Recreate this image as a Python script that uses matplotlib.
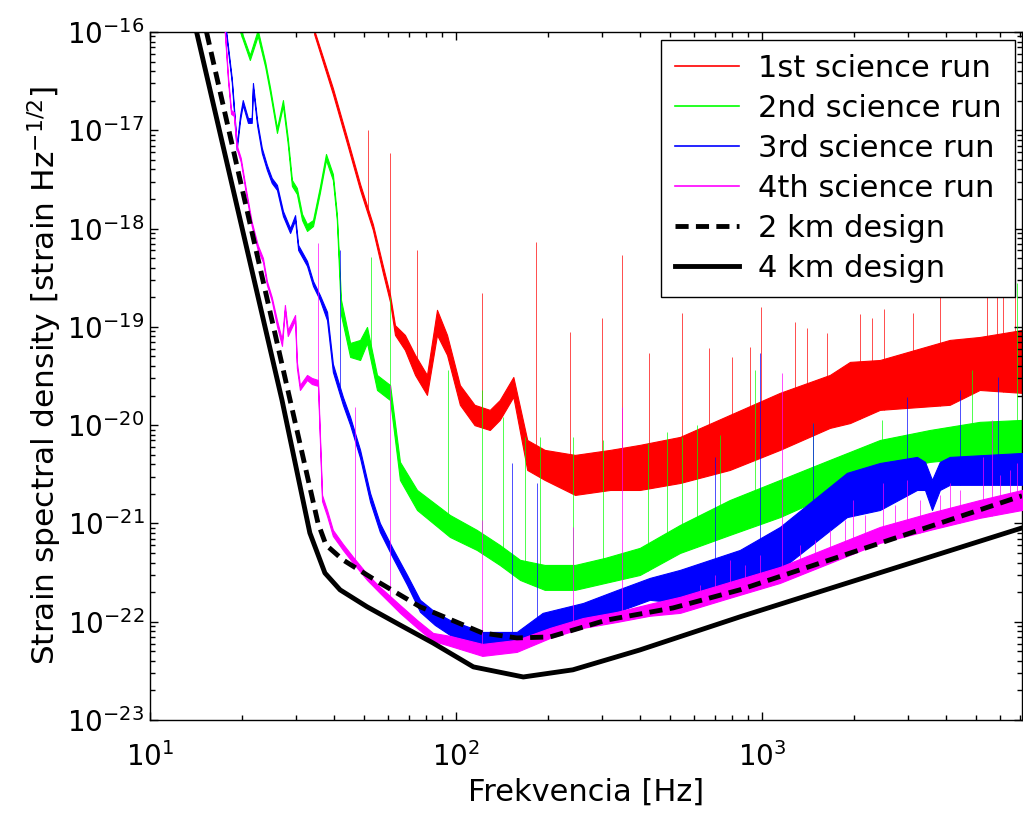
import numpy as np
import matplotlib
matplotlib.use("Agg")
import matplotlib.pyplot as plt
from matplotlib.lines import Line2D

plt.rcParams['font.family'] = ['DejaVu Sans']

# ---- data (Hz, strain/sqrt(Hz)) ----
# 1st science run: band lower / upper edge
red_f = [34.4, 39.6, 44.0, 48.6, 53.5, 57.7, 60.9, 63.2, 68.1, 73.5,
         80.4, 86.7, 93.5, 103, 115, 129, 139, 154, 171, 195,
         245, 319, 399, 540, 785, 1145, 1667, 1940, 2430, 4110, 5150, 7080]
red_hi = [1.05e-16, 2.69e-17, 8.55e-18, 2.84e-18, 1.11e-18, 4.17e-19, 2.11e-19, 1.04e-19, 8.28e-20, 5.18e-20,
          3.24e-20, 1.49e-19, 8.28e-20, 2.56e-20, 1.61e-20, 1.43e-20, 1.80e-20, 3.09e-20, 7.06e-21, 5.60e-21,
          4.98e-21, 5.60e-21, 6.30e-21, 7.59e-21, 1.27e-20, 2.13e-20, 3.24e-20, 4.40e-20, 4.60e-20, 7.36e-20,
          7.89e-20, 9.29e-20]
red_lo = [9.5e-17, 2.34e-17, 7.43e-18, 2.47e-18, 9.7e-19, 3.53e-19, 1.79e-19, 8.28e-20, 5.82e-20, 3.24e-20,
          2.03e-20, 8.28e-20, 5.18e-20, 1.61e-20, 1.0e-20, 8.93e-21, 1.13e-20, 1.94e-20, 3.50e-21, 2.77e-21,
          1.95e-21, 2.19e-21, 2.19e-21, 2.58e-21, 3.50e-21, 5.60e-21, 9.37e-21, 1.05e-20, 1.43e-20, 1.61e-20,
          2.28e-20, 2.13e-20]
red_spk_f = [51.6, 60.9, 74.6, 122, 182, 236, 300, 349, 427, 548, 671, 798, 914, 993, 1282, 1403,
             1630, 2090, 2286, 2504, 3114, 3816, 5436, 5857, 6134, 6711]
red_spk_h = [1.01e-17, 5.87e-18, 6.05e-19, 2.21e-19, 7.31e-19, 8.87e-20, 1.23e-19, 5.38e-19, 5.42e-20,
             1.38e-19, 6.10e-20, 4.94e-20, 6.25e-20, 1.59e-19, 1.12e-19, 9.75e-20, 8.67e-20, 1.35e-19,
             1.23e-19, 1.52e-19, 1.38e-19, 2.21e-19, 2.01e-19, 2.21e-19, 3.97e-19, 2.01e-19]

# 2nd science run
green_f = [19.4, 21.2, 22.5, 23.8, 24.7, 26.0, 27.2, 28.2, 29.1, 30.2,
           31.4, 32.6, 34.1, 35.9, 37.6, 39.6, 40.8, 42.1, 45.1, 48.6,
           51.2, 55.2, 60.9, 65.6, 74.6, 95.5, 117, 139, 162, 195,
           245, 307, 399, 540, 785, 1145, 1667, 2430, 3540, 5150, 7080]
green_hi = [1.26e-16, 5.83e-17, 1.05e-16, 4.95e-17, 2.69e-17, 1.05e-17, 2.03e-17, 8.36e-18, 3.12e-18, 2.59e-18,
            1.41e-18, 1.11e-18, 1.22e-18, 2.65e-18, 5.74e-18, 3.59e-18, 1.41e-18, 1.88e-19, 6.86e-20, 7.36e-20,
            9.98e-20, 3.24e-20, 2.56e-20, 4.23e-21, 2.19e-21, 1.22e-21, 8.59e-22, 6.04e-22, 4.26e-22, 3.78e-22,
            3.78e-22, 4.46e-22, 5.64e-22, 9.66e-22, 1.73e-21, 2.77e-21, 4.43e-21, 7.06e-21, 8.93e-21, 1.08e-20,
            1.13e-20]
green_lo = [1.15e-16, 5.19e-17, 9.1e-17, 4.41e-17, 2.39e-17, 9.4e-18, 1.77e-17, 7.26e-18, 2.71e-18, 2.25e-18,
            1.22e-18, 9.46e-19, 1.06e-18, 2.30e-18, 4.99e-18, 3.12e-18, 1.22e-18, 1.32e-19, 4.94e-20, 4.60e-20,
            6.86e-20, 2.28e-20, 1.80e-20, 2.77e-21, 1.37e-21, 7.29e-22, 5.37e-22, 3.78e-22, 2.66e-22, 2.11e-22,
            2.11e-22, 2.48e-22, 2.99e-22, 5.01e-22, 7.64e-22, 1.16e-21, 1.95e-21, 3.34e-21, 4.23e-21, 4.75e-21,
            4.75e-21]
green_spk_f = [52.7, 60.9, 94.2, 122, 142.5, 168, 188, 241, 302, 424, 490, 548, 614, 730, 949,
               1469, 2466, 4853, 6808]
green_spk_h = [5.14e-19, 2.01e-19, 3.65e-20, 2.28e-20, 1.21e-20, 7.59e-21, 7.59e-21, 7.59e-21, 7.06e-21,
               6.59e-21, 8.53e-21, 7.59e-21, 1.0e-20, 7.95e-21, 3.65e-20, 1.05e-20, 1.13e-20, 3.65e-20, 2.80e-19]

# 3rd science run
blue_f = [17.6, 18.5, 19.0, 19.2, 19.7, 20.1, 20.9, 21.5, 21.7, 22.4,
          23.2, 24.1, 25.0, 26.0, 27.2, 28.7, 29.8, 30.5, 32.6, 34.1,
          35.9, 37.9, 39.6, 42.7, 45.1, 48.6, 52.4, 56.4, 62.2, 69.2,
          76.3, 85.3, 95.5, 122, 158, 192, 260, 336, 430, 540,
          847, 1145, 1896, 2430, 3213, 3412, 3597, 3816, 4110, 7080]
blue_hi = [1.26e-16, 3.40e-17, 1.13e-17, 7.08e-18, 1.43e-17, 2.03e-17, 1.33e-17, 1.33e-17, 3.03e-17, 1.24e-17,
           6.61e-18, 4.44e-18, 3.27e-18, 2.78e-18, 1.51e-18, 1.01e-18, 1.37e-18, 6.81e-19, 4.68e-19, 2.93e-19,
           2.11e-19, 1.42e-19, 4.20e-20, 1.94e-20, 1.21e-20, 5.60e-21, 2.04e-21, 1.01e-21, 5.51e-22, 2.99e-22,
           1.67e-22, 1.26e-22, 1.04e-22, 7.87e-23, 7.87e-23, 1.23e-22, 1.55e-22, 2.10e-22, 2.79e-22, 3.37e-22,
           5.37e-22, 9.21e-22, 3.27e-21, 4.12e-21, 4.75e-21, 4.23e-21, 2.77e-21, 4.23e-21, 4.75e-21, 5.21e-21]
blue_lo = [1.15e-16, 3.10e-17, 1.01e-17, 6.31e-18, 1.27e-17, 1.81e-17, 1.19e-17, 1.19e-17, 2.69e-17, 1.11e-17,
           5.87e-18, 3.95e-18, 2.91e-18, 2.47e-18, 1.34e-18, 9.02e-19, 1.22e-18, 6.05e-19, 4.17e-19, 2.61e-19,
           1.88e-19, 1.17e-19, 3.48e-20, 1.61e-20, 1.0e-20, 4.63e-21, 1.66e-21, 8.20e-22, 4.46e-22, 2.37e-22,
           1.26e-22, 9.27e-23, 7.34e-23, 5.41e-23, 5.41e-23, 7.69e-23, 9.27e-23, 1.26e-22, 1.67e-22, 1.55e-22,
           2.26e-22, 3.37e-22, 1.16e-21, 1.37e-21, 2.19e-21, 2.19e-21, 1.37e-21, 2.19e-21, 2.47e-21, 2.47e-21]
blue_spk_f = [41.8, 152, 184, 702, 984, 1469, 2978, 4436, 5902]
blue_spk_h = [6.05e-19, 4.12e-21, 2.58e-21, 4.75e-21, 5.42e-20, 1.05e-20, 1.94e-20, 2.28e-20, 3.09e-20]

# 4th science run
mag_f = [17.5, 18.0, 18.4, 18.8, 19.2, 19.8, 20.6, 21.5, 22.5, 23.4,
         24.1, 25.0, 26.0, 27.0, 27.6, 28.2, 29.8, 30.2, 30.9, 32.6,
         33.8, 35.4, 36.5, 37.9, 39.6, 42.7, 46.1, 51.2, 56.4, 65.6,
         74.6, 84.1, 95.5, 122, 158, 203, 260, 336, 430, 540,
         785, 1145, 1667, 2430, 3540, 5150, 7080]
mag_hi = [1.26e-16, 3.40e-17, 1.61e-17, 1.53e-17, 7.08e-18, 5.23e-18, 2.47e-18, 1.17e-18, 6.81e-19, 5.02e-19,
          2.93e-19, 2.01e-19, 1.17e-19, 7.36e-20, 1.67e-19, 9.29e-20, 1.32e-19, 4.40e-20, 2.56e-20, 3.24e-20,
          3.02e-20, 2.88e-20, 1.95e-21, 1.37e-21, 8.59e-22, 6.18e-22, 4.56e-22, 3.06e-22, 2.26e-22, 1.48e-22,
          1.04e-22, 7.69e-23, 7.18e-23, 5.94e-23, 6.53e-23, 8.65e-23, 1.09e-22, 1.26e-22, 1.52e-22, 1.79e-22,
          2.54e-22, 3.61e-22, 5.77e-22, 9.21e-22, 1.28e-21, 1.73e-21, 2.19e-21]
mag_lo = [1.15e-16, 3.10e-17, 1.47e-17, 1.40e-17, 6.46e-18, 4.76e-18, 2.25e-18, 1.06e-18, 6.05e-19, 4.57e-19,
          2.67e-19, 1.84e-19, 1.02e-19, 6.40e-20, 1.49e-19, 8.07e-20, 1.17e-19, 3.82e-20, 2.28e-20, 2.88e-20,
          2.62e-20, 2.51e-20, 1.69e-21, 1.19e-21, 7.46e-22, 5.37e-22, 3.96e-22, 2.66e-22, 1.96e-22, 1.23e-22,
          8.65e-23, 6.38e-23, 5.68e-23, 4.49e-23, 4.93e-23, 6.84e-23, 8.65e-23, 9.95e-23, 1.15e-22, 1.23e-22,
          1.75e-22, 2.48e-22, 3.96e-22, 6.34e-22, 8.59e-22, 1.14e-21, 1.37e-21]
mag_spk_f = [35.4, 46.8, 60.9, 122, 241, 349, 627, 702, 785, 879,
             984, 1161, 1331, 1490, 1667, 1866, 1983, 2172, 2485, 2720,
             2978, 3283, 3816, 4110, 4436, 5272, 5645, 5998, 6457, 6808]
mag_spk_h = [7.14e-19, 1.53e-20, 2.56e-20, 1.09e-21, 9.21e-22, 1.53e-20, 2.37e-22, 2.99e-22, 4.26e-22, 3.78e-22,
             4.79e-22, 3.40e-20, 6.04e-22, 6.79e-22, 8.59e-22, 1.09e-21, 1.73e-21, 1.22e-21, 2.58e-21, 1.54e-21,
             2.77e-21, 1.73e-21, 1.95e-21, 2.58e-21, 2.19e-21, 4.75e-21, 1.13e-20, 3.11e-21, 3.50e-21, 4.12e-21]

# design curves
d2_f = [15.3, 28.7, 35.4, 37.6, 42.7, 56.4, 76.3, 122, 158, 203, 311, 512, 847, 7080]
d2_h = [1e-16, 1.80e-20, 1.01e-21, 6.04e-22, 4.26e-22, 2.48e-22, 1.42e-22, 7.69e-23, 6.84e-23, 7.0e-23,
        1.04e-22, 1.38e-22, 2.11e-22, 1.91e-21]
d4_f = [14.2, 27.0, 33.3, 37.3, 41.8, 51.2, 65.6, 84.1, 114, 166, 241, 399, 847, 7080]
d4_h = [1e-16, 1.80e-20, 8.0e-22, 3.13e-22, 2.11e-22, 1.42e-22, 9.27e-23, 6.08e-23, 3.47e-23, 2.74e-23,
        3.24e-23, 5.16e-23, 1.12e-22, 9.0e-22]

runs = [
    ("1st science run", "#ff0000", red_f, red_lo, red_hi, red_spk_f, red_spk_h),
    ("2nd science run", "#00ff00", green_f, green_lo, green_hi, green_spk_f, green_spk_h),
    ("3rd science run", "#0000ff", blue_f, blue_lo, blue_hi, blue_spk_f, blue_spk_h),
    ("4th science run", "#ff00ff", mag_f, mag_lo, mag_hi, mag_spk_f, mag_spk_h),
]

fig = plt.figure(figsize=(10.23, 8.14), dpi=100)
ax = fig.add_axes([150 / 1023, 94 / 814, 872 / 1023, 688 / 814])
ax.set_xscale('log')
ax.set_yscale('log')

handles = []
for i, (name, col, f, lo, hi, sf, sh) in enumerate(runs):
    z = 1 + i
    ax.fill_between(f, lo, hi, color=col, lw=0.8, zorder=z)
    # lines stick out of the band at the spike frequencies
    base = 10 ** np.interp(np.log10(sf), np.log10(f), np.log10(lo))
    ax.vlines(sf, base, sh, color=col, lw=0.7, alpha=0.7, zorder=z)
    handles.append(Line2D([0], [0], color=col, lw=1.2, label=name))

ax.plot(d2_f, d2_h, color='k', lw=3.5, ls=(0, (2.7, 1.5)), zorder=6)
ax.plot(d4_f, d4_h, color='k', lw=3.5, zorder=7)
handles.append(Line2D([0], [0], color='k', lw=3.5, ls=(0, (2.7, 1.5)), label='2 km design'))
handles.append(Line2D([0], [0], color='k', lw=3.5, label='4 km design'))

ax.set_xlim(10, 7080)
ax.set_ylim(1e-23, 1e-16)
ax.set_yticks([10.0 ** k for k in range(-23, -15)])
ax.set_xticks([10, 100, 1000])

ax.tick_params(which='both', direction='in', top=True, right=True, width=1)
ax.tick_params(which='major', length=6, labelsize=20)
ax.tick_params(axis='x', which='major', pad=16)
ax.tick_params(axis='y', which='major', pad=4)
ax.tick_params(which='minor', length=3.5)
for s in ax.spines.values():
    s.set_linewidth(1.0)

ax.set_xlabel('Frekvencia [Hz]', fontsize=22, labelpad=4)
ax.set_ylabel('Strain spectral density [strain Hz$^{-1/2}$]', fontsize=22.5, labelpad=2)

leg = ax.legend(handles=handles, loc='upper right', bbox_to_anchor=(0.992, 0.988),
                borderaxespad=0, fontsize=22, frameon=True, fancybox=False,
                edgecolor='k', framealpha=1, borderpad=0.45, labelspacing=0.36,
                handlelength=2.1, handletextpad=0.6)
leg.get_frame().set_linewidth(1.0)
leg.set_zorder(10)

fig.savefig('out.png', dpi=100)
